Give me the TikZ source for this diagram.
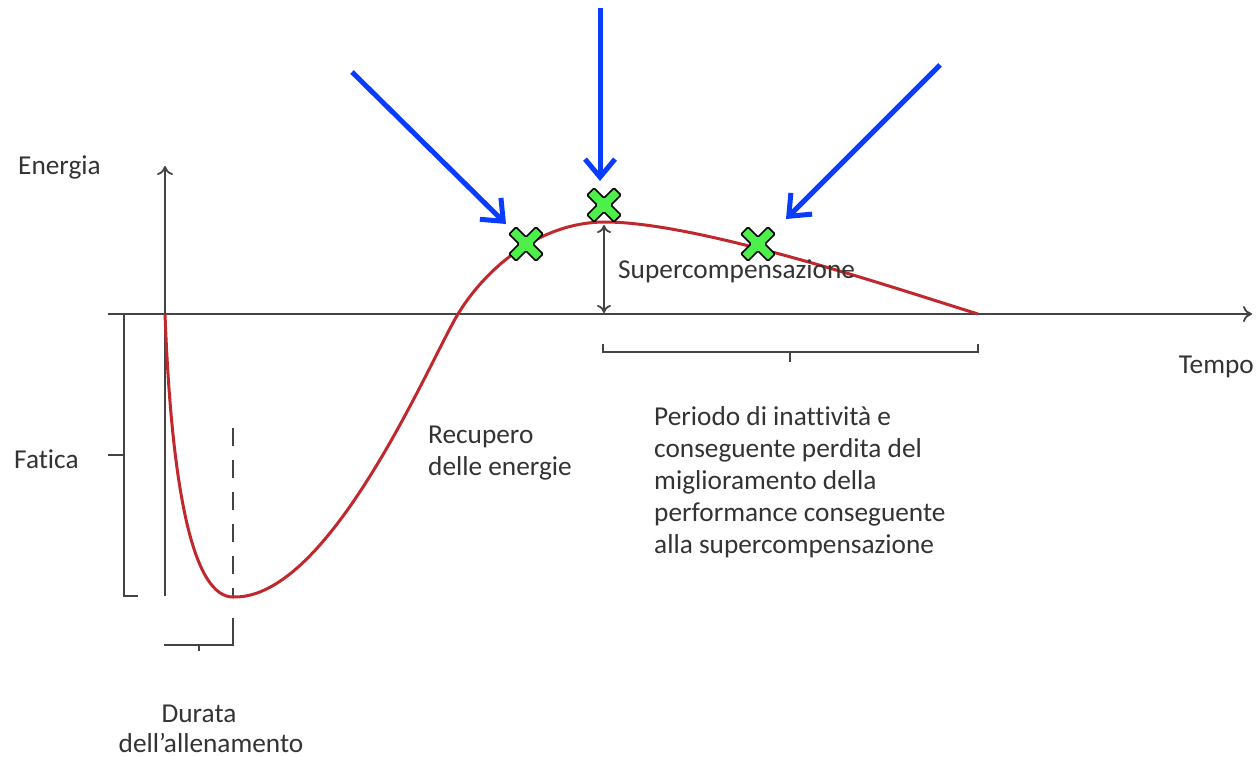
\documentclass[tikz,border=0pt]{standalone}
\usepackage{fontspec}
\setmainfont{Carlito}[Ligatures={NoCommon}]
\usetikzlibrary{arrows.meta}
\definecolor{axisgray}{HTML}{444444}
\definecolor{txtgray}{HTML}{333333}
\definecolor{curvered}{HTML}{C0282D}
\definecolor{arrowblue}{HTML}{0A3CFF}
\definecolor{crossgreen}{HTML}{4DF04A}
\tikzset{
  axis/.style={draw=axisgray, line width=1.8pt},
  bracketline/.style={draw=axisgray, line width=1.8pt},
  curve/.style={draw=curvered, line width=3pt},
  bluearrow/.style={draw=arrowblue, line width=5pt, -{Straight Barb[length=18pt, width=30pt, line width=5pt]}},
  lbl/.style={text=txtgray, font=\fontsize{27.3}{32}\selectfont, inner sep=0pt},
  gcross/.pic={\draw[fill=crossgreen, draw=black, line width=1.6pt, rounded corners=1.2pt, rotate=45]
     (5,19)--(5,5)--(19,5)--(19,-5)--(5,-5)--(5,-19)--(-5,-19)--(-5,-5)--(-19,-5)--(-19,5)--(-5,5)--(-5,19)--cycle;}
}
\begin{document}
\begin{tikzpicture}[x=1pt, y=-1pt]
\useasboundingbox (0,0) rectangle (1260,757);
% axes
\coordinate (hx0) at (108,314);
\coordinate (hx1) at (1252,314);
\coordinate (vy0) at (165,596);
\coordinate (vy1) at (165,166);
\draw[axis, -{To[length=9pt, width=16pt]}] (hx0) -- (hx1);
\draw[axis, -{To[length=9pt, width=16pt]}] (vy0) -- (vy1);
% left bracket (Fatica)
\draw[bracketline] (133,314) -- (124,314) -- (124,596) -- (138,596);
\draw[bracketline] (124,455) -- (108,455);
% dashed line at minimum
\coordinate (dtop) at (233,428);
\coordinate (dbot) at (233,598);
\draw[axisgray, line width=1.8pt, dash pattern=on 18pt off 14pt] (dtop) -- (dbot);
% duration bracket
\draw[bracketline] (233,618) -- (233,645) -- (164,645);
\draw[bracketline] (199,645) -- (199,651);
% supercompensation bracket
\draw[bracketline] (603,344) -- (603,352) -- (978,352) -- (978,344);
\draw[bracketline] (790,352) -- (790,362);
% curve
\coordinate (c0) at (165,314);
\coordinate (cmin) at (233,597);
\coordinate (cx) at (458,314);
\coordinate (cpk) at (605,222);
\coordinate (cend) at (978,314);
\draw[curve] (c0) .. controls (172,500) and (195,597) .. (cmin)
  .. controls (330,600) and (430,360) .. (cx)
  .. controls (486,268) and (540,222) .. (cpk)
  .. controls (700,222) and (900,290) .. (cend);
% double arrow
\coordinate (sctop) at (604,225);
\coordinate (scbot) at (604,313);
\draw[axisgray, line width=1.8pt, {To[length=8pt, width=14pt]}-{To[length=8pt, width=14pt]}] (sctop) -- (scbot);
% labels
\node[lbl, anchor=base west] (energia) at (18,174) {Energia};
\node[lbl, anchor=base west] (fatica) at (14,468) {Fatica};
\node[lbl, anchor=base east] (tempo) at (1254,373) {Tempo};
\node[lbl, anchor=base west] (superc) at (618,278) {Supercompensazione};
\node[lbl, anchor=base west] (rec1) at (428,443) {Recupero};
\node[lbl, anchor=base west] (rec2) at (428,475) {delle energie};
\node[lbl, anchor=base west] (p1) at (654,425) {Periodo di inattività e};
\node[lbl, anchor=base west] (p2) at (654,457) {conseguente perdita del};
\node[lbl, anchor=base west] (p3) at (654,489) {miglioramento della};
\node[lbl, anchor=base west] (p4) at (654,521) {performance conseguente};
\node[lbl, anchor=base west] (p5) at (654,553) {alla supercompensazione};
\node[lbl, anchor=base] (dur1) at (199,722) {Durata};
\node[lbl, anchor=base] (dur2) at (211,752) {dell’allenamento};
% markers
\coordinate (m1) at (526,244);
\coordinate (m2) at (604,205);
\coordinate (m3) at (758,244);
\pic at (m1) {gcross};
\pic at (m2) {gcross};
\pic at (m3) {gcross};
% blue arrows
\coordinate (a1) at (352,72);
\coordinate (a1e) at (506,224);
\coordinate (a2) at (600,8);
\coordinate (a2e) at (600,181);
\coordinate (a3) at (940,65);
\coordinate (a3e) at (786,219);
\draw[bluearrow] (a1) -- (a1e);
\draw[bluearrow] (a2) -- (a2e);
\draw[bluearrow] (a3) -- (a3e);
\end{tikzpicture}
\end{document}
